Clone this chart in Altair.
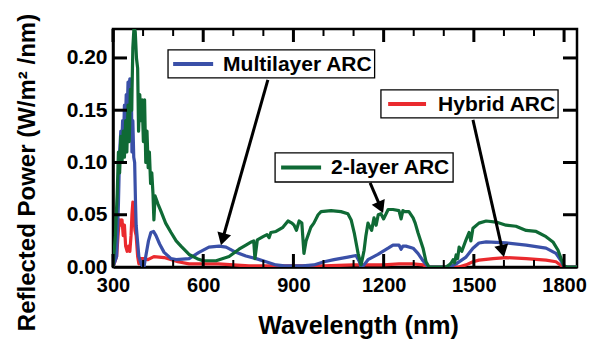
import math
import altair as alt
import pandas as pd

# ---------------- data ----------------
wl_green = [300, 308, 314, 318, 322, 326, 330, 334, 338, 342, 346, 350, 354, 358, 362, 366, 370,
            374, 378, 382, 385, 389, 393, 397, 401, 405, 409, 413, 417, 421, 425, 429, 433, 436,
            440, 450, 460, 475, 493, 510, 526,
            553, 580, 600, 643, 686, 719, 742, 760, 768, 772, 780, 799, 812, 819, 825, 842,
            865, 882, 895, 902, 910, 919, 928, 935, 942, 958, 968, 982, 992, 1025, 1058, 1081,
            1092, 1102, 1115, 1125, 1135, 1141, 1148, 1160, 1168, 1175, 1182, 1191, 1200, 1215,
            1231, 1251, 1258, 1264, 1270, 1284, 1298, 1305, 1314, 1331, 1341, 1351, 1380, 1407,
            1418, 1425, 1431, 1436, 1441, 1446, 1451, 1460, 1474, 1484, 1490, 1497, 1517, 1541,
            1574, 1607, 1640, 1674, 1707, 1740, 1763, 1780, 1790, 1800, 1810, 1900]
green = [0.0, 0.03, 0.07, 0.11, 0.09, 0.125, 0.10, 0.13, 0.105, 0.14, 0.11, 0.155, 0.12, 0.17,
         0.15, 0.21, 0.23, 0.225, 0.20, 0.19, 0.13, 0.165, 0.14, 0.16, 0.12, 0.16, 0.10, 0.13,
         0.095, 0.11, 0.08, 0.09, 0.07, 0.045, 0.068, 0.06,
         0.053, 0.042, 0.033, 0.025, 0.02, 0.012, 0.008, 0.006, 0.006, 0.01, 0.017, 0.021, 0.024,
         0.025, 0.008, 0.026, 0.029, 0.031, 0.028, 0.033, 0.034, 0.038, 0.044, 0.042, 0.040,
         0.035, 0.044, 0.042, 0.013, 0.025, 0.038, 0.042, 0.050, 0.053, 0.054, 0.053, 0.051,
         0.045, 0.033, 0.013, 0.002, 0.016, 0.03, 0.042, 0.035, 0.047, 0.040, 0.050, 0.051,
         0.046, 0.055, 0.055, 0.054, 0.046, 0.054, 0.053, 0.053, 0.047, 0.042, 0.033, 0.018,
         0.005, 0.0, 0.0, 0.0, 0.002, 0.004, 0.007, 0.004, 0.0115, 0.008, 0.019, 0.015, 0.026,
         0.033, 0.025, 0.037, 0.042, 0.044, 0.043, 0.040, 0.039, 0.035, 0.034, 0.029, 0.024,
         0.016, 0.008, 0.001, 0.0, 0.0]

wl_blue = [300, 312, 318, 322, 326, 329, 332, 335, 338, 341, 344, 347, 350, 353, 356, 359, 361,
           363, 366, 369, 372, 375, 377, 386, 395, 403,
           410, 418, 426, 435, 443, 455, 470, 493, 510, 553, 586, 619, 653, 676, 709, 742, 776,
           809, 842, 870, 930, 968, 1002, 1035, 1081, 1108, 1118, 1125, 1135, 1148, 1181, 1215,
           1231, 1251, 1258, 1264, 1274, 1298, 1314, 1331, 1348, 1420, 1441, 1474, 1497, 1517,
           1541, 1607, 1674, 1740, 1773, 1790, 1800, 1900]
blue = [0.0, 0.01, 0.06, 0.11, 0.13, 0.115, 0.14, 0.12, 0.155, 0.135, 0.165, 0.145, 0.177, 0.16,
        0.18, 0.165, 0.18, 0.11, 0.14, 0.105, 0.10, 0.06, 0.04, 0.01, 0.002, 0.0,
        0.012, 0.025, 0.033, 0.034, 0.03, 0.022, 0.014, 0.008, 0.007, 0.008,
        0.014, 0.019, 0.020, 0.019, 0.014, 0.0105, 0.008, 0.005, 0.002, 0.001, 0.001, 0.002,
        0.005, 0.007, 0.0095, 0.011, 0.006, 0.0, 0.002, 0.007, 0.012, 0.018, 0.021, 0.021,
        0.017, 0.020, 0.020, 0.018, 0.013, 0.006, 0.0, 0.0, 0.003, 0.0095, 0.018, 0.023, 0.024,
        0.023, 0.021, 0.018, 0.013, 0.006, 0.0, 0.0]

wl_red = [300, 312, 318, 322, 326, 330, 334, 338, 342, 347, 352, 356, 360, 363, 366, 369, 373,
          377, 382, 386, 392, 400,
          416, 436, 470, 516, 553, 599, 650, 752, 850, 950, 1000, 1100, 1200, 1251, 1298, 1331,
          1348, 1450, 1474, 1497, 1517, 1564, 1607, 1674, 1740, 1773, 1797, 1900]
red = [0.0, 0.01, 0.035, 0.045, 0.04, 0.045, 0.03, 0.04, 0.02, 0.015, 0.02, 0.015, 0.03, 0.05,
       0.062, 0.05, 0.035, 0.03, 0.01, 0.003, 0.008, 0.008,
       0.007, 0.01, 0.009, 0.005, 0.003, 0.003, 0.003, 0.001, 0.001, 0.001,
       0.001, 0.002, 0.002, 0.003, 0.003, 0.002, 0.0, 0.0, 0.002, 0.005, 0.0066, 0.008, 0.009,
       0.008, 0.0066, 0.005, 0.0, 0.0]

x_ticks_major = [300, 600, 900, 1200, 1500, 1800]
x_ticks_minor = [400, 500, 700, 800, 1000, 1100, 1300, 1400, 1600, 1700]
y_labels = [0, 0.05, 0.10, 0.15, 0.20]
y_ticks = [0.05, 0.10, 0.15, 0.20]

# annotation boxes (data units)
labels = ["Multilayer ARC", "Hybrid ARC", "2-layer ARC"]
colors = ["#3a50a8", "#ea2a2e", "#0f6a35"]
box_x0 = [483, 1191, 839]
box_x1 = [1170, 1780, 1431]
box_y0 = [0.1809, 0.1426, 0.0813]
box_y1 = [0.2077, 0.1694, 0.1091]
sample_x0 = [500, 1215, 859]
sample_x1 = [633, 1341, 992]
text_x = [666, 1381, 1025]
arrow_x0 = [815, 1497, 1155]
arrow_y0 = [0.179, 0.1407, 0.0804]
arrow_x1 = [659, 1600, 1198]
arrow_y1 = [0.021, 0.0096, 0.0517]

# ---------------- layout ----------------
W, H = 464, 238
XMIN, XMAX = 300, 1843
YMAX = 0.2277
PXN = W / (XMAX - XMIN)
PXY = H / YMAX
FONT = "Liberation Sans"

xs = alt.Scale(domain=[XMIN, XMAX], nice=False, zero=False)
ys = alt.Scale(domain=[0, YMAX], nice=False, zero=True)

X_AXIS = alt.Axis(
    values=x_ticks_major, format="d", ticks=False, grid=False,
    labelFont=FONT, labelFontSize=20, labelFontWeight="bold", labelColor="black",
    labelPadding=8, domainColor="black", domainWidth=2.5,
    title="Wavelength (nm)", titleFont=FONT, titleFontSize=25, titleFontWeight="bold",
    titleColor="black", titleX=245, titleY=66, titleBaseline="alphabetic", titleAnchor="middle",
    labelFlush=False, labelOverlap=False)
Y_AXIS = alt.Axis(
    values=y_labels, format=".2f", ticks=False, grid=False,
    labelFont=FONT, labelFontSize=21, labelFontWeight="bold", labelColor="black",
    labelPadding=6, domainColor="black", domainWidth=2.5,
    title="Reflected Power (W/m² /nm)", titleFont=FONT, titleFontSize=24,
    titleFontWeight="bold", titleColor="black", titleAngle=270, titleX=-86, titleY=143,
    titleAlign="center", titleBaseline="middle", labelFlush=False, labelOverlap=False)

ann = pd.DataFrame({
    "label": labels, "color": colors,
    "x0": box_x0, "x1": box_x1, "y0": box_y0, "y1": box_y1,
    "sx0": sample_x0, "sx1": sample_x1, "tx": text_x,
})
ann["ym"] = (ann["y0"] + ann["y1"]) / 2

arr_rows = []
for a, b, c, d in zip(arrow_x0, arrow_y0, arrow_x1, arrow_y1):
    dxp = (c - a) * PXN
    dyp = -(d - b) * PXY
    L = math.hypot(dxp, dyp)
    ux, uy = dxp / L, dyp / L
    back = 6.0
    hx = c - ux * back / PXN
    hy = d + uy * back / PXY
    ang = math.degrees(math.atan2(ux, -uy)) % 360
    arr_rows.append({"ax0": a, "ay0": b, "ax1": hx, "ay1": hy, "hx": hx, "hy": hy, "ang": ang})
arr = pd.DataFrame(arr_rows)


def X(field):
    return alt.X(field, scale=xs, axis=X_AXIS)


def Y(field):
    return alt.Y(field, scale=ys, axis=Y_AXIS)


def line_layer(wls, vals, color):
    df = pd.DataFrame({"wl": wls, "p": vals})
    return alt.Chart(df).mark_line(color=color, strokeWidth=3.2, clip=True,
                                   strokeJoin="round").encode(x=X("wl:Q"), y=Y("p:Q"))


xmaj = pd.DataFrame({"t": x_ticks_major})
xmin_ = pd.DataFrame({"t": x_ticks_minor})
ytk = pd.DataFrame({"t": y_ticks})


def xtick(df, y0, y1, w):
    return alt.Chart(df).mark_rule(color="black", strokeWidth=w).encode(
        x=X("t:Q"), y=alt.value(y0), y2=alt.value(y1))


ticks = [
    xtick(xmaj, H, H - 13, 3), xtick(xmaj, 0, 13, 3),
    xtick(xmin_, H, H - 7, 2), xtick(xmin_, 0, 7, 2),
    alt.Chart(ytk).mark_rule(color="black", strokeWidth=3).encode(
        y=Y("t:Q"), x=alt.value(0), x2=alt.value(14)),
    alt.Chart(ytk).mark_rule(color="black", strokeWidth=3).encode(
        y=Y("t:Q"), x=alt.value(W), x2=alt.value(W - 14)),
]

boxes = alt.Chart(ann).mark_rect(fill="white", stroke="black", strokeWidth=1.3).encode(
    x=X("x0:Q"), x2="x1:Q", y=Y("y0:Q"), y2="y1:Q")
samples = alt.Chart(ann).mark_rule(strokeWidth=4).encode(
    x=X("sx0:Q"), x2="sx1:Q", y=Y("ym:Q"), color=alt.Color("color:N", scale=None))
texts = alt.Chart(ann).mark_text(align="left", baseline="middle", font=FONT, fontSize=21,
                                 fontWeight="bold", color="black", dy=1).encode(
    x=X("tx:Q"), y=Y("ym:Q"), text="label:N")
shafts = alt.Chart(arr).mark_rule(color="black", strokeWidth=3).encode(
    x=X("ax0:Q"), x2="ax1:Q", y=Y("ay0:Q"), y2="ay1:Q")
heads = alt.Chart(arr).mark_point(shape="triangle-up", filled=True, size=200, color="black",
                                  opacity=1).encode(
    x=X("hx:Q"), y=Y("hy:Q"), angle=alt.Angle("ang:Q", scale=None))

chart = alt.layer(
    line_layer(wl_red, red, "#ea2a2e"),
    line_layer(wl_blue, blue, "#3a50a8"),
    line_layer(wl_green, green, "#0f6a35"),
    *ticks,
    boxes, samples, texts, shafts, heads,
).properties(
    width=W, height=H, autosize="none",
    padding={"left": 105, "top": 21, "right": 10, "bottom": 72},
).configure_view(stroke="black", strokeWidth=2.5)

chart.save("out.html", embed_options={"renderer": "svg", "actions": False})
